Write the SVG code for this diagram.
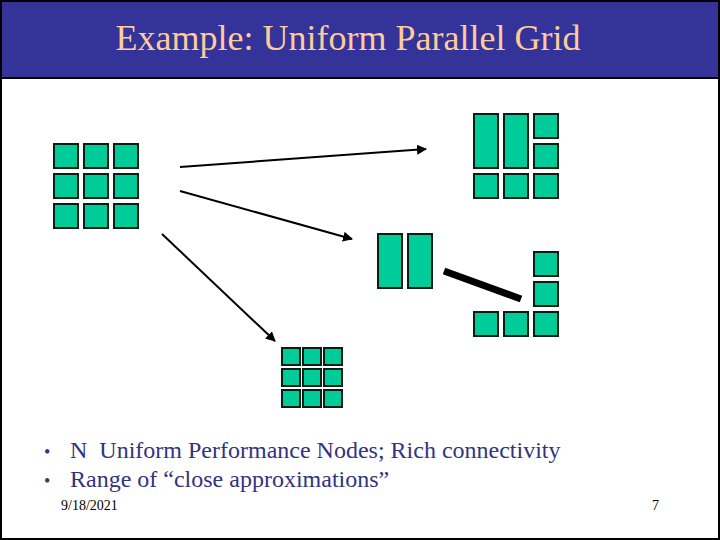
<svg xmlns="http://www.w3.org/2000/svg" width="720" height="540" viewBox="0 0 720 540">
<style>
.c{fill:#00CC99;stroke:#0a1f14;stroke-width:2}
.a{stroke:#000;stroke-width:2;fill:none;marker-end:url(#ah)}
</style>
<defs>
<marker id="ah" viewBox="0 0 10 10" refX="9" refY="5" markerWidth="5" markerHeight="5" orient="auto" markerUnits="strokeWidth">
<path d="M0,0 L10,5 L0,10 z" fill="#000"/>
</marker>
</defs>
<rect x="1" y="1" width="718" height="538" fill="#fff" stroke="#000" stroke-width="2"/>
<rect x="1" y="1" width="718" height="77" fill="#333399" stroke="#000" stroke-width="2"/>
<text font-family="'Liberation Serif','Times New Roman',serif" x="348" y="50" font-size="36" fill="#FFCC99" text-anchor="middle">Example: Uniform Parallel Grid</text>

<g id="grid-source">
<rect class="c" x="54" y="144" width="24" height="24"/><rect class="c" x="84" y="144" width="24" height="24"/><rect class="c" x="114" y="144" width="24" height="24"/>
<rect class="c" x="54" y="174" width="24" height="24"/><rect class="c" x="84" y="174" width="24" height="24"/><rect class="c" x="114" y="174" width="24" height="24"/>
<rect class="c" x="54" y="204" width="24" height="24"/><rect class="c" x="84" y="204" width="24" height="24"/><rect class="c" x="114" y="204" width="24" height="24"/>
</g>

<g id="grid-topright">
<rect class="c" x="474" y="114" width="24" height="54"/><rect class="c" x="504" y="114" width="24" height="54"/>
<rect class="c" x="534" y="114" width="24" height="24"/><rect class="c" x="534" y="144" width="24" height="24"/>
<rect class="c" x="474" y="174" width="24" height="24"/><rect class="c" x="504" y="174" width="24" height="24"/><rect class="c" x="534" y="174" width="24" height="24"/>
</g>

<g id="grid-middle-left">
<rect class="c" x="378" y="234" width="24" height="54"/><rect class="c" x="408" y="234" width="24" height="54"/>
</g>

<g id="grid-middle-right">
<rect class="c" x="534" y="252" width="24" height="24"/><rect class="c" x="534" y="282" width="24" height="24"/>
<rect class="c" x="474" y="312" width="24" height="24"/><rect class="c" x="504" y="312" width="24" height="24"/><rect class="c" x="534" y="312" width="24" height="24"/>
</g>

<g id="grid-small">
<rect class="c" x="282" y="348" width="18" height="17"/><rect class="c" x="303" y="348" width="18" height="17"/><rect class="c" x="324" y="348" width="18" height="17"/>
<rect class="c" x="282" y="369" width="18" height="17"/><rect class="c" x="303" y="369" width="18" height="17"/><rect class="c" x="324" y="369" width="18" height="17"/>
<rect class="c" x="282" y="390" width="18" height="17"/><rect class="c" x="303" y="390" width="18" height="17"/><rect class="c" x="324" y="390" width="18" height="17"/>
</g>

<g id="connectors">
<line class="a" x1="180" y1="167" x2="426" y2="149"/>
<line class="a" x1="180" y1="191" x2="352" y2="239"/>
<line class="a" x1="162" y1="234" x2="275" y2="341"/>
<line x1="444" y1="271" x2="521" y2="299" stroke="#000" stroke-width="7"/>
</g>

<g id="bullets" font-family="'Liberation Serif','Times New Roman',serif" fill="#333380" font-size="24">
<text x="44" y="458" font-size="18">•</text>
<text x="70" y="458" xml:space="preserve">N  Uniform Performance Nodes; Rich connectivity</text>
<text x="44" y="487" font-size="18">•</text>
<text x="70" y="487">Range of “close approximations”</text>
</g>
<text font-family="'Liberation Serif','Times New Roman',serif" x="61" y="510" font-size="14" fill="#000">9/18/2021</text>
<text font-family="'Liberation Serif','Times New Roman',serif" x="652" y="510" font-size="14" fill="#000">7</text>
</svg>
